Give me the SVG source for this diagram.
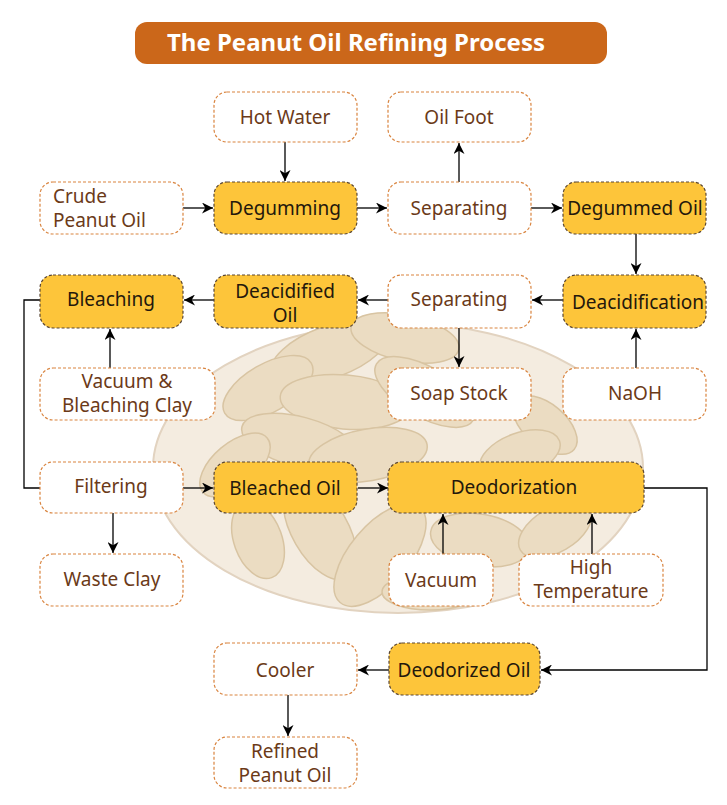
<svg xmlns="http://www.w3.org/2000/svg" width="727" height="805" viewBox="0 0 727 805">
<style>
.w{fill:#fff;stroke:#D9843F;stroke-width:1.2;stroke-dasharray:3 2}
.y{fill:#FDC53A;stroke:#5A4632;stroke-width:1.2;stroke-dasharray:3 2}
.tw{font-family:"Noto Sans","Liberation Sans",sans-serif;font-size:19px;fill:#6B3A18;text-anchor:middle}
.ty{font-family:"Noto Sans","Liberation Sans",sans-serif;font-size:19px;fill:#24180C;text-anchor:middle}
.c{fill:none;stroke:#000;stroke-width:1.3}
.pn{fill:#EBDCC2;stroke:#D8C4A2;stroke-width:1.5}
</style>
<defs>
<marker id="a" viewBox="0 0 10 10" refX="10" refY="5" markerWidth="11" markerHeight="11" markerUnits="userSpaceOnUse" orient="auto">
<path d="M0,0 L10,5 L0,10 L3,5 Z" fill="#000"/>
</marker>
</defs>
<rect width="727" height="805" fill="#fff"/>
<g id="background">
<ellipse cx="398" cy="468" rx="245" ry="145" fill="#F4ECE0" stroke="#E2D3C0" stroke-width="2"/>
<ellipse class="pn" cx="330" cy="352" rx="62" ry="26" transform="rotate(-20 330 352)"/>
<ellipse class="pn" cx="405" cy="338" rx="55" ry="23" transform="rotate(12 405 338)"/>
<ellipse class="pn" cx="268" cy="388" rx="50" ry="24" transform="rotate(-30 268 388)"/>
<ellipse class="pn" cx="345" cy="402" rx="65" ry="27" transform="rotate(5 345 402)"/>
<ellipse class="pn" cx="425" cy="392" rx="56" ry="25" transform="rotate(30 425 392)"/>
<ellipse class="pn" cx="300" cy="442" rx="60" ry="25" transform="rotate(15 300 442)"/>
<ellipse class="pn" cx="235" cy="465" rx="42" ry="22" transform="rotate(-40 235 465)"/>
<ellipse class="pn" cx="368" cy="455" rx="60" ry="26" transform="rotate(-10 368 455)"/>
<ellipse class="pn" cx="545" cy="425" rx="38" ry="21" transform="rotate(40 545 425)"/>
<ellipse class="pn" cx="520" cy="455" rx="42" ry="22" transform="rotate(-20 520 455)"/>
<ellipse class="pn" cx="320" cy="530" rx="55" ry="28" transform="rotate(60 320 530)"/>
<ellipse class="pn" cx="258" cy="540" rx="40" ry="24" transform="rotate(70 258 540)"/>
<ellipse class="pn" cx="380" cy="555" rx="62" ry="30" transform="rotate(-50 380 555)"/>
<ellipse class="pn" cx="480" cy="540" rx="50" ry="26" transform="rotate(10 480 540)"/>
<ellipse class="pn" cx="555" cy="530" rx="40" ry="22" transform="rotate(-30 555 530)"/>
<ellipse class="pn" cx="430" cy="592" rx="48" ry="18" transform="rotate(0 430 592)"/>
</g>
<g id="title">
<rect x="135" y="22" width="472" height="42" rx="12" fill="#CB671A"/>
<text x="356" y="51" font-family="'Noto Sans','Liberation Sans',sans-serif" font-size="23" font-weight="bold" fill="#fff" text-anchor="middle" textLength="378" lengthAdjust="spacingAndGlyphs">The Peanut Oil Refining Process</text>
</g>
<g id="connectors">
<path class="c" d="M285,142 V181" marker-end="url(#a)"/>
<path class="c" d="M183,208 H213" marker-end="url(#a)"/>
<path class="c" d="M357,208 H387" marker-end="url(#a)"/>
<path class="c" d="M459,182 V143" marker-end="url(#a)"/>
<path class="c" d="M531,208 H562" marker-end="url(#a)"/>
<path class="c" d="M636,234 V274" marker-end="url(#a)"/>
<path class="c" d="M563,300 H532" marker-end="url(#a)"/>
<path class="c" d="M388,300 H358" marker-end="url(#a)"/>
<path class="c" d="M214,300 H184" marker-end="url(#a)"/>
<path class="c" d="M459,328 V367" marker-end="url(#a)"/>
<path class="c" d="M636,368 V329" marker-end="url(#a)"/>
<path class="c" d="M110,368 V329" marker-end="url(#a)"/>
<path class="c" d="M40,300 H24 V488 H40"/>
<path class="c" d="M183,488 H213" marker-end="url(#a)"/>
<path class="c" d="M358,488 H388" marker-end="url(#a)"/>
<path class="c" d="M113,513 V553" marker-end="url(#a)"/>
<path class="c" d="M443,554 V514" marker-end="url(#a)"/>
<path class="c" d="M592,554 V514" marker-end="url(#a)"/>
<path class="c" d="M644,488 H707 V670 H541" marker-end="url(#a)"/>
<path class="c" d="M389,670 H358" marker-end="url(#a)"/>
<path class="c" d="M288,695 V736" marker-end="url(#a)"/>
</g>
<g id="hot-water"><rect class="w" x="214" y="92" width="143" height="50" rx="13"/><text class="tw" x="285" y="124">Hot Water</text></g>
<g id="oil-foot"><rect class="w" x="388" y="92" width="143" height="50" rx="13"/><text class="tw" x="459" y="124">Oil Foot</text></g>
<g id="crude-peanut-oil"><rect class="w" x="40" y="182" width="143" height="52" rx="13"/><text class="tw" x="53" y="203" style="text-anchor:start">Crude</text><text class="tw" x="53" y="227" style="text-anchor:start">Peanut Oil</text></g>
<g id="degumming"><rect class="y" x="214" y="182" width="143" height="52" rx="13"/><text class="ty" x="285" y="215">Degumming</text></g>
<g id="separating-1"><rect class="w" x="388" y="182" width="143" height="52" rx="13"/><text class="tw" x="459" y="215">Separating</text></g>
<g id="degummed-oil"><rect class="y" x="563" y="182" width="143" height="52" rx="13"/><text class="ty" x="635" y="215">Degummed Oil</text></g>
<g id="bleaching"><rect class="y" x="40" y="275" width="143" height="53" rx="13"/><text class="ty" x="111" y="306">Bleaching</text></g>
<g id="deacidified-oil"><rect class="y" x="214" y="275" width="143" height="53" rx="13"/><text class="ty" x="285" y="298">Deacidified</text><text class="ty" x="285" y="322">Oil</text></g>
<g id="separating-2"><rect class="w" x="388" y="275" width="143" height="53" rx="13"/><text class="tw" x="459" y="306">Separating</text></g>
<g id="deacidification"><rect class="y" x="563" y="275" width="143" height="53" rx="13"/><text class="ty" x="638" y="309">Deacidification</text></g>
<g id="vacuum-bleaching-clay"><rect class="w" x="40" y="368" width="175" height="52" rx="13"/><text class="tw" x="127" y="388">Vacuum &amp;</text><text class="tw" x="127" y="412">Bleaching Clay</text></g>
<g id="soap-stock"><rect class="w" x="388" y="368" width="143" height="52" rx="13"/><text class="tw" x="459" y="400">Soap Stock</text></g>
<g id="naoh"><rect class="w" x="563" y="368" width="143" height="52" rx="13"/><text class="tw" x="635" y="400">NaOH</text></g>
<g id="filtering"><rect class="w" x="40" y="462" width="143" height="51" rx="13"/><text class="tw" x="111" y="493">Filtering</text></g>
<g id="bleached-oil"><rect class="y" x="214" y="462" width="143" height="51" rx="13"/><text class="ty" x="285" y="495">Bleached Oil</text></g>
<g id="deodorization"><rect class="y" x="388" y="462" width="256" height="51" rx="13"/><text class="ty" x="514" y="494">Deodorization</text></g>
<g id="waste-clay"><rect class="w" x="40" y="554" width="143" height="52" rx="13"/><text class="tw" x="112" y="586">Waste Clay</text></g>
<g id="vacuum"><rect class="w" x="389" y="554" width="104" height="52" rx="13"/><text class="tw" x="441" y="587">Vacuum</text></g>
<g id="high-temperature"><rect class="w" x="519" y="554" width="144" height="52" rx="13"/><text class="tw" x="591" y="574">High</text><text class="tw" x="591" y="598">Temperature</text></g>
<g id="deodorized-oil"><rect class="y" x="389" y="643" width="151" height="52" rx="13"/><text class="ty" x="464" y="677">Deodorized Oil</text></g>
<g id="cooler"><rect class="w" x="214" y="643" width="143" height="52" rx="13"/><text class="tw" x="285" y="677">Cooler</text></g>
<g id="refined-peanut-oil"><rect class="w" x="214" y="737" width="143" height="51" rx="13"/><text class="tw" x="285" y="758">Refined</text><text class="tw" x="285" y="782">Peanut Oil</text></g>
</svg>
